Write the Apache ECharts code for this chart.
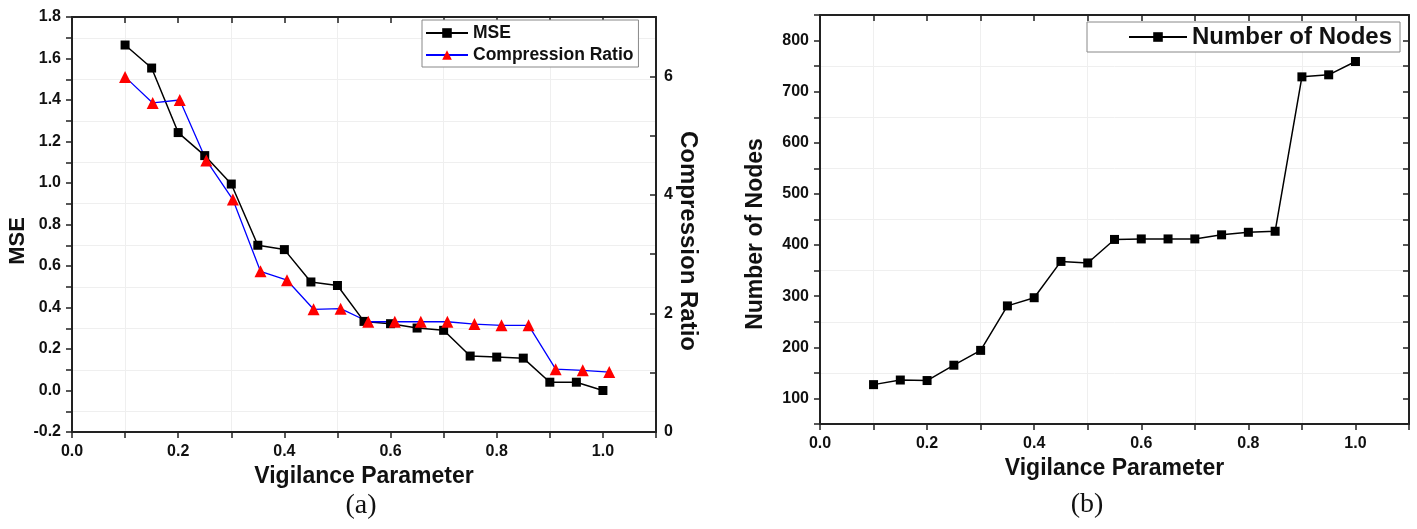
<!DOCTYPE html>
<html>
<head>
<meta charset="utf-8">
<script src="https://cdn.jsdelivr.net/npm/echarts@6/dist/echarts.min.js"></script>
<style>
html,body{margin:0;padding:0;background:#fff;}
#chart{width:1417px;height:529px;}
</style>
</head>
<body>
<div id="chart"></div>
<script>
// ---- data ----
const mseX = [0.10,0.15,0.20,0.25,0.30,0.35,0.40,0.45,0.50,0.55,0.60,0.65,0.70,0.75,0.80,0.85,0.90,0.95,1.00];
const mseY = [1.665,1.554,1.243,1.132,0.995,0.700,0.679,0.523,0.506,0.333,0.322,0.301,0.290,0.166,0.161,0.156,0.040,0.040,0.000];
const crX  = [0.100,0.152,0.203,0.253,0.303,0.355,0.405,0.455,0.506,0.558,0.608,0.657,0.707,0.758,0.809,0.860,0.911,0.962,1.012];
const crY  = [5.99,5.55,5.60,4.58,3.92,2.71,2.56,2.07,2.08,1.86,1.86,1.86,1.86,1.82,1.80,1.80,1.06,1.04,1.01];
const nodesX = [0.10,0.15,0.20,0.25,0.30,0.35,0.40,0.45,0.50,0.55,0.60,0.65,0.70,0.75,0.80,0.85,0.90,0.95,1.00];
const nodesY = [127,136,135,165,194,281,297,368,365,411,412,412,412,420,425,427,729,733,759];

const xTitle = 'Vigilance Parameter';
const mseTitle = 'MSE';
const crTitle = 'Compression Ratio';
const nodesTitle = 'Number of Nodes';

const zip = (a, b) => a.map((v, i) => [v, b[i]]);

const FONT = 'Liberation Sans, Arial, Helvetica, sans-serif';
const AX = '#222';
const GRIDC = '#efefef';
const TR = 'rgba(0,0,0,0)';
const TICKFS = 16;

const evenTenth = v => (Math.round(v * 10) % 2 === 0) ? v.toFixed(1) : '';

function baseAxis(extra) {
  return Object.assign({
    type: 'value',
    axisLine: { show: true, onZero: false, lineStyle: { color: AX, width: 2 } },
    axisTick: { show: true, length: 6, lineStyle: { color: AX, width: 1.5 } },
    axisLabel: { color: '#111', fontFamily: FONT, fontWeight: 'bold', fontSize: TICKFS },
    splitLine: { show: false }
  }, extra);
}

const chart = echarts.init(document.getElementById('chart'));
const option = {
  animation: false,
  backgroundColor: '#fff',
  grid: [
    { left: 72, top: 17, width: 584, height: 415 },
    { left: 820, top: 15, width: 589, height: 409 }
  ],
  legend: [
    {
      data: ['MSE', 'Compression Ratio'],
      orient: 'vertical', left: 422, top: 20,
      itemWidth: 42, itemHeight: 12, itemGap: 4,
      padding: [4, 5, 3, 3],
      backgroundColor: '#fff', borderColor: '#888', borderWidth: 1, borderRadius: 0,
      textStyle: { color: '#111', fontFamily: FONT, fontWeight: 'bold', fontSize: 17.5 }
    },
    {
      data: ['Number of Nodes'],
      orient: 'vertical', left: 1087, top: 22,
      itemWidth: 58, itemHeight: 12,
      padding: [3, 8, 3, 41],
      backgroundColor: '#fff', borderColor: '#888', borderWidth: 1, borderRadius: 0,
      textStyle: { color: '#111', fontFamily: FONT, fontWeight: 'bold', fontSize: 24 }
    }
  ],
  xAxis: [
    baseAxis({
      gridIndex: 0, position: 'bottom', min: 0, max: 1.1, interval: 0.1,
      axisLabel: { color: '#111', fontFamily: FONT, fontWeight: 'bold', fontSize: TICKFS, margin: 12, formatter: evenTenth },
      splitLine: { show: true, lineStyle: { color: [TR, GRIDC], width: 1 } },
      name: xTitle, nameLocation: 'middle', nameGap: 31,
      nameTextStyle: { color: '#111', fontFamily: FONT, fontWeight: 'bold', fontSize: 23 }
    }),
    baseAxis({
      gridIndex: 0, position: 'top', min: 0, max: 1.1, interval: 0.1,
      axisTick: { show: true, inside: true, length: 6, lineStyle: { color: AX, width: 1.5 } },
      axisLabel: { show: false }
    }),
    baseAxis({
      gridIndex: 1, position: 'bottom', min: 0, max: 1.1, interval: 0.1,
      axisLabel: { color: '#111', fontFamily: FONT, fontWeight: 'bold', fontSize: TICKFS, margin: 12, formatter: evenTenth },
      splitLine: { show: true, lineStyle: { color: [TR, GRIDC], width: 1 } },
      name: xTitle, nameLocation: 'middle', nameGap: 33,
      nameTextStyle: { color: '#111', fontFamily: FONT, fontWeight: 'bold', fontSize: 23 }
    }),
    baseAxis({
      gridIndex: 1, position: 'top', min: 0, max: 1.1, interval: 0.1,
      axisTick: { show: true, inside: true, length: 6, lineStyle: { color: AX, width: 1.5 } },
      axisLabel: { show: false }
    })
  ],
  yAxis: [
    baseAxis({
      gridIndex: 0, position: 'left', min: -0.2, max: 1.8, interval: 0.1,
      axisLabel: { color: '#111', fontFamily: FONT, fontWeight: 'bold', fontSize: TICKFS, margin: 11, formatter: evenTenth },
      splitLine: { show: true, lineStyle: { color: [TR, GRIDC], width: 1 } }
    }),
    baseAxis({
      gridIndex: 0, position: 'right', min: 0, max: 7, interval: 1,
      axisTick: { show: true, inside: true, length: 6, lineStyle: { color: AX, width: 1.5 } },
      axisLabel: { color: '#111', fontFamily: FONT, fontWeight: 'bold', fontSize: TICKFS, margin: 8,
        formatter: v => (Math.round(v) % 2 === 0) ? String(v) : '' }
    }),
    baseAxis({
      gridIndex: 1, position: 'left', min: 50, max: 850, interval: 50,
      axisLabel: { color: '#111', fontFamily: FONT, fontWeight: 'bold', fontSize: TICKFS, margin: 11,
        formatter: v => (v % 100 === 0) ? String(v) : '' },
      splitLine: { show: true, lineStyle: { color: [GRIDC, TR], width: 1 } }
    }),
    baseAxis({
      gridIndex: 1, position: 'right', min: 50, max: 850, interval: 50,
      axisTick: { show: true, inside: true, length: 6, lineStyle: { color: AX, width: 1.5 } },
      axisLabel: { show: false }
    })
  ],
  series: [
    {
      name: 'MSE', type: 'line', xAxisIndex: 0, yAxisIndex: 0,
      data: zip(mseX, mseY),
      symbol: 'rect', symbolSize: 9,
      itemStyle: { color: '#000' },
      lineStyle: { color: '#000', width: 1.5 }
    },
    {
      name: 'Compression Ratio', type: 'line', xAxisIndex: 0, yAxisIndex: 1,
      data: zip(crX, crY),
      symbol: 'triangle', symbolSize: 12,
      itemStyle: { color: '#ff0000' },
      lineStyle: { color: '#0000ff', width: 1.3 }
    },
    {
      name: 'Number of Nodes', type: 'line', xAxisIndex: 2, yAxisIndex: 2,
      data: zip(nodesX, nodesY),
      symbol: 'rect', symbolSize: 9,
      itemStyle: { color: '#000' },
      lineStyle: { color: '#000', width: 1.5 }
    }
  ],
  graphic: [
    { type: 'text', x: 18, y: 241, rotation: Math.PI / 2,
      style: { text: mseTitle, fill: '#111', font: 'bold 22px ' + FONT, textAlign: 'center', textVerticalAlign: 'middle' } },
    { type: 'text', x: 688, y: 241, rotation: -Math.PI / 2,
      style: { text: crTitle, fill: '#111', font: 'bold 24px ' + FONT, textAlign: 'center', textVerticalAlign: 'middle' } },
    { type: 'text', x: 756, y: 234, rotation: Math.PI / 2,
      style: { text: nodesTitle, fill: '#111', font: 'bold 23px ' + FONT, textAlign: 'center', textVerticalAlign: 'middle' } },
    { type: 'text', x: 361, y: 506,
      style: { text: '(a)', fill: '#111', font: '28px Liberation Serif, Times New Roman, serif', textAlign: 'center', textVerticalAlign: 'middle' } },
    { type: 'text', x: 1087, y: 505,
      style: { text: '(b)', fill: '#111', font: '28px Liberation Serif, Times New Roman, serif', textAlign: 'center', textVerticalAlign: 'middle' } }
  ]
};
chart.setOption(option);
</script>
</body>
</html>
